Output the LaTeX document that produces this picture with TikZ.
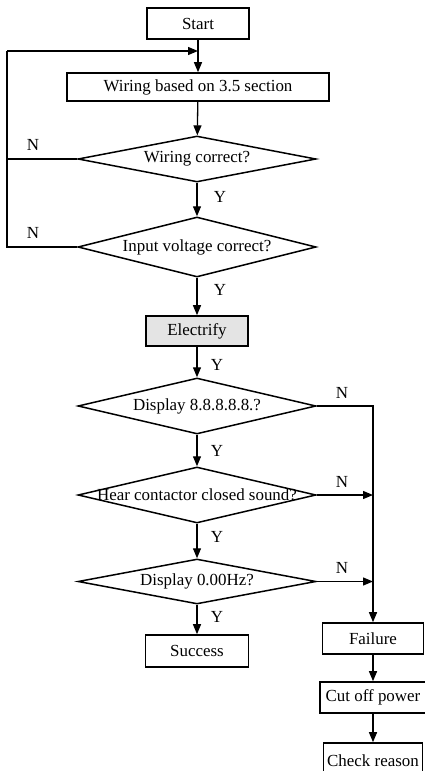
\documentclass[tikz,border=0pt]{standalone}
\usepackage{fontspec}
\setmainfont{Liberation Serif}
\usepackage{tikz}
\usetikzlibrary{arrows.meta, shapes.geometric, positioning}
\definecolor{mygray}{HTML}{E4E4E4}
\newcommand{\decisiontext}[1]{\makebox[0pt]{#1}}
\tikzset{
	stepbox/.style={
			rectangle,
			draw=black,
			line width=1.6bp,
			fill=white,
			inner sep=0pt,
			font=\fontsize{17}{20}\selectfont
		},
	graybox/.style={
			stepbox,
			fill=mygray
		},
	decision/.style={
			diamond,
			draw=black,
			line width=1.5bp,
			fill=white,
			inner sep=0pt,
			minimum width=238bp,
			font=\fontsize{17}{20}\selectfont
		},
	flag/.style={
			inner sep=0pt,
			font=\fontsize{17}{20}\selectfont
		},
	line/.style={
			line width=1.3bp,
			draw=black
		},
	flow/.style={
			line,
			-{Triangle[length=10bp,width=8bp]}
		}
}

\begin{document}
\begin{tikzpicture}[x=1bp,y=1bp]
\useasboundingbox (0,0) rectangle (424,-771);

\node[stepbox, minimum width=102bp, minimum height=31bp] (start) at (198,-23.5) {Start};
\node[stepbox, minimum width=262bp, minimum height=28bp] (wiring) at (198,-87) {Wiring based on 3.5 section};
\node[decision, minimum height=46bp] (dA) at (197,-159) {\decisiontext{Wiring correct?}};
\node[decision, minimum height=60bp] (dB) at (197,-247) {\decisiontext{Input voltage correct?}};
\node[graybox, minimum width=102bp, minimum height=30bp] (electrify) at (197,-331) {Electrify};
\node[decision, minimum height=56bp] (dC) at (197,-406) {\decisiontext{Display 8.8.8.8.8.?}};
\node[decision, minimum height=56bp] (dD) at (197,-495) {\decisiontext{Hear contactor closed sound?}};
\node[decision, minimum height=45bp] (dE) at (197,-581.5) {\decisiontext{Display 0.00Hz?}};
\node[stepbox, minimum width=103bp, minimum height=32bp] (success) at (197,-651) {Success};
\node[stepbox, minimum width=101bp, minimum height=31bp] (failure) at (373,-638.5) {Failure};
\node[stepbox, minimum width=106bp, minimum height=31bp] (cutoff) at (373,-697.5) {Cut off power};
\node[stepbox, minimum width=99bp, minimum height=36bp] (check) at (373,-761) {Check reason};

\coordinate (railtop) at (7,-51);
\coordinate (loopin) at (198,-51);

% labels
\node[flag] (nA) at (33,-145) {N};
\node[flag] (nB) at (33,-233) {N};
\node[flag] (nC) at (342,-393) {N};
\node[flag] (nD) at (342,-482) {N};
\node[flag] (nE) at (342,-568) {N};
\node[flag] (yA) at (220,-197) {Y};
\node[flag] (yB) at (220,-290) {Y};
\node[flag] (yC) at (217,-365) {Y};
\node[flag] (yD) at (217,-451) {Y};
\node[flag] (yE) at (217,-537) {Y};
\node[flag] (yF) at (217,-617) {Y};

\draw[flow] (start) -- (wiring);
\draw[flow] (wiring) -- (dA);
\draw[flow] (dA) -- (dB);
\draw[flow] (dB) -- (electrify);
\draw[flow] (electrify) -- (dC);
\draw[flow] (dC) -- (dD);
\draw[flow] (dD) -- (dE);
\draw[flow] (dE) -- (success);

\draw[line] (dA.west) -| (railtop);
\draw[line] (dB.west) -| (railtop);
\draw[flow] (railtop) -- (loopin);

\draw[flow] (dC.east) -| (failure.north);
\draw[flow] (dD.east) -- (dD.east -| failure.north);
\draw[flow] (dE.east) -- (dE.east -| failure.north);

\draw[flow] (failure) -- (cutoff);
\draw[flow] (cutoff) -- (check);

\end{tikzpicture}
\end{document}
